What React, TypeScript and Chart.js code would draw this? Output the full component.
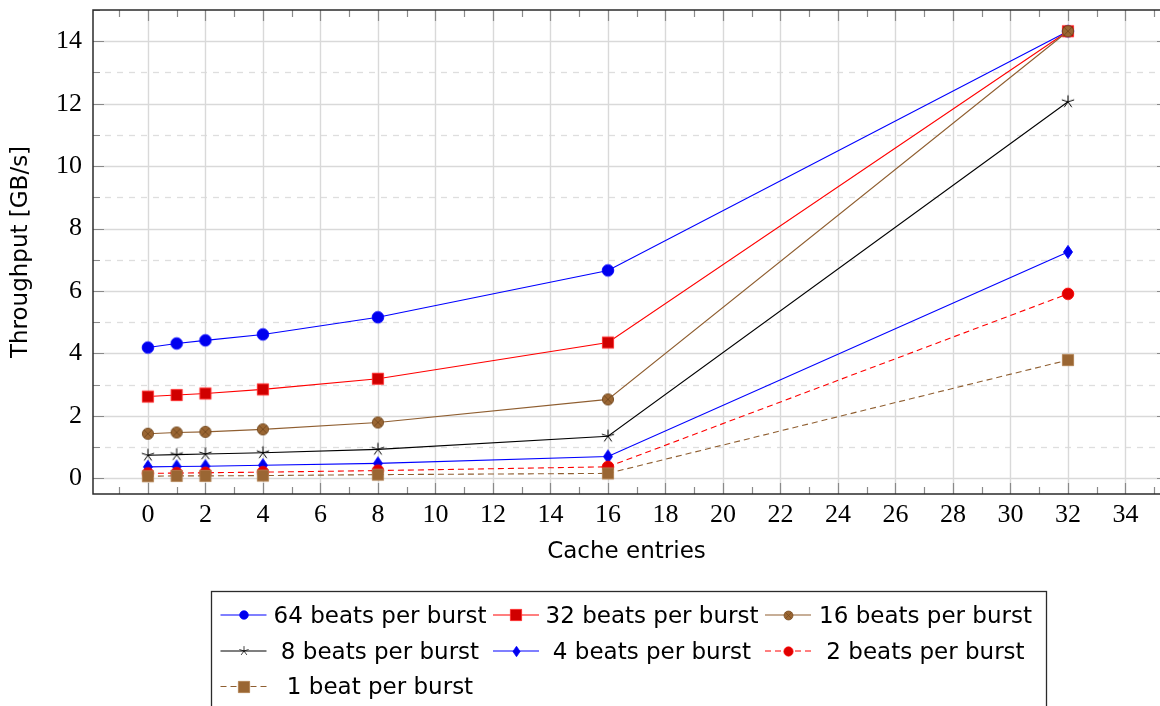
import React, { useEffect, useRef } from 'react';
import { Chart, registerables } from 'chart.js';

Chart.register(...registerables);

// ---------- data ----------
const CACHE_ENTRIES = [0, 1, 2, 4, 8, 16, 32];
const BEATS_64 = [4.19, 4.32, 4.42, 4.61, 5.16, 6.66, 14.32];
const BEATS_32 = [2.62, 2.67, 2.72, 2.85, 3.19, 4.35, 14.32];
const BEATS_16 = [1.43, 1.47, 1.49, 1.57, 1.79, 2.53, 14.32];
const BEATS_8 = [0.74, 0.76, 0.78, 0.82, 0.93, 1.35, 12.06];
const BEATS_4 = [0.37, 0.38, 0.39, 0.42, 0.48, 0.7, 7.25];
const BEATS_2 = [0.16, 0.17, 0.18, 0.2, 0.25, 0.37, 5.91];
const BEATS_1 = [0.07, 0.08, 0.08, 0.09, 0.12, 0.16, 3.79];
const SERIES_LABELS = [
  '64 beats per burst',
  '32 beats per burst',
  '16 beats per burst',
  '8 beats per burst',
  '4 beats per burst',
  '2 beats per burst',
  '1 beat per burst',
];
const X_TICKS = [0, 2, 4, 6, 8, 10, 12, 14, 16, 18, 20, 22, 24, 26, 28, 30, 32, 34];
const Y_TICKS = [0, 2, 4, 6, 8, 10, 12, 14];
const X_TITLE = 'Cache entries';
const Y_TITLE = 'Throughput [GB/s]';

// ---------- marker images ----------
type Kind = 'circle' | 'square' | 'circlex' | 'star' | 'diamond';
function makeMarker(kind: Kind, fill: string, stroke: string, scale = 1): HTMLCanvasElement {
  const size = Math.max(6, Math.round(16 * scale));
  const c = document.createElement('canvas');
  c.width = size;
  c.height = size;
  const ctx = c.getContext('2d')!;
  ctx.translate(size / 2, size / 2);
  ctx.scale(scale, scale);
  ctx.lineWidth = 0.9;
  ctx.fillStyle = fill;
  ctx.strokeStyle = stroke;
  if (kind === 'circle') {
    ctx.beginPath();
    ctx.arc(0, 0, 5.8, 0, Math.PI * 2);
    ctx.fill();
    ctx.stroke();
  } else if (kind === 'square') {
    ctx.beginPath();
    ctx.rect(-5.6, -5.6, 11.2, 11.2);
    ctx.fill();
    ctx.stroke();
  } else if (kind === 'circlex') {
    ctx.beginPath();
    ctx.arc(0, 0, 5.6, 0, Math.PI * 2);
    ctx.fill();
    ctx.stroke();
    const d = 5.6 * Math.SQRT1_2;
    ctx.beginPath();
    ctx.moveTo(-d, -d);
    ctx.lineTo(d, d);
    ctx.moveTo(d, -d);
    ctx.lineTo(-d, d);
    ctx.stroke();
  } else if (kind === 'diamond') {
    ctx.beginPath();
    ctx.moveTo(0, -6.6);
    ctx.lineTo(4.5, 0);
    ctx.lineTo(0, 6.6);
    ctx.lineTo(-4.5, 0);
    ctx.closePath();
    ctx.fill();
    ctx.stroke();
  } else if (kind === 'star') {
    ctx.lineWidth = 1;
    ctx.beginPath();
    for (let k = 0; k < 5; k++) {
      const a = -Math.PI / 2 + (k * 2 * Math.PI) / 5;
      ctx.moveTo(0, 0);
      ctx.lineTo(6.5 * Math.cos(a), 6.5 * Math.sin(a));
    }
    ctx.stroke();
  }
  return c;
}

const BROWN_LINE = '#8f5e30';
const BROWN_FILL = '#9a6633';
const BROWN_EDGE = '#74491f';

interface SeriesStyle {
  data: number[];
  color: string;
  dash: number[];
  kind: Kind;
  fill: string;
  stroke: string;
  legendScale: number;
}

const SERIES: SeriesStyle[] = [
  { data: BEATS_64, color: '#0000ff', dash: [], kind: 'circle', fill: '#0000ee', stroke: '#0000ff', legendScale: 0.75 },
  { data: BEATS_32, color: '#ff0000', dash: [], kind: 'square', fill: '#d00000', stroke: '#ff2a2a', legendScale: 1 },
  { data: BEATS_16, color: BROWN_LINE, dash: [], kind: 'circlex', fill: BROWN_FILL, stroke: BROWN_EDGE, legendScale: 0.8 },
  { data: BEATS_8, color: '#000000', dash: [], kind: 'star', fill: '#000000', stroke: '#000000', legendScale: 0.75 },
  { data: BEATS_4, color: '#0000ff', dash: [], kind: 'diamond', fill: '#0000ee', stroke: '#0000ff', legendScale: 0.8 },
  { data: BEATS_2, color: '#ff0000', dash: [6, 4], kind: 'circle', fill: '#e00000', stroke: '#ff0000', legendScale: 0.8 },
  { data: BEATS_1, color: BROWN_LINE, dash: [6, 4], kind: 'square', fill: BROWN_FILL, stroke: '#b08050', legendScale: 1 },
];

const TICK_FONT = "'Liberation Serif', 'DejaVu Serif', serif";
const SANS = "'DejaVu Sans', 'Noto Sans', sans-serif";

export default function App() {
  const ref = useRef<HTMLCanvasElement | null>(null);

  useEffect(() => {
    const canvas = ref.current;
    if (!canvas) return;

    const markers = SERIES.map((s) => makeMarker(s.kind, s.fill, s.stroke, 1));
    const legendMarkers = SERIES.map((s) => makeMarker(s.kind, s.fill, s.stroke, s.legendScale));

    const datasets = SERIES.map((s, i) => ({
      label: SERIES_LABELS[i],
      data: CACHE_ENTRIES.map((x, j) => ({ x, y: s.data[j] })),
      borderColor: s.color,
      backgroundColor: s.fill,
      borderWidth: 1.1,
      borderDash: s.dash,
      pointStyle: markers[i] as any,
      pointRadius: 6,
      pointHoverRadius: 6,
      tension: 0,
      fill: false,
      order: SERIES.length - 1 - i,
      clip: 12,
    }));

    const frame = {
      id: 'pgfFrame',
      beforeDatasetsDraw(chart: any) {
        const { ctx, chartArea: a, scales } = chart;
        const xs = scales.x;
        const ys = scales.y;
        const rightEdge = chart.width + 8; // frame's right side lies just outside the picture
        ctx.save();
        // minor dashed y grid
        ctx.strokeStyle = '#dedede';
        ctx.lineWidth = 1.3;
        ctx.setLineDash([6, 6]);
        Y_TICKS.forEach((t) => {
          const v = t + 1;
          if (v >= ys.max) return;
          const py = Math.round(ys.getPixelForValue(v)) + 0.5;
          ctx.beginPath();
          ctx.moveTo(a.left, py);
          ctx.lineTo(a.right, py);
          ctx.stroke();
        });
        ctx.setLineDash([]);
        // major grid
        ctx.strokeStyle = '#d9d9d9';
        ctx.lineWidth = 1.4;
        X_TICKS.forEach((t) => {
          const px = Math.round(xs.getPixelForValue(t)) + 0.5;
          ctx.beginPath();
          ctx.moveTo(px, a.top);
          ctx.lineTo(px, a.bottom);
          ctx.stroke();
        });
        Y_TICKS.forEach((t) => {
          const py = Math.round(ys.getPixelForValue(t)) + 0.5;
          ctx.beginPath();
          ctx.moveTo(a.left, py);
          ctx.lineTo(a.right, py);
          ctx.stroke();
        });
        // tick marks (inward)
        ctx.strokeStyle = '#8a8a8a';
        ctx.lineWidth = 1.2;
        const xMinor = X_TICKS.map((t) => t - 1).concat([X_TICKS[X_TICKS.length - 1] + 1]);
        const drawX = (v: number, len: number) => {
          const px = Math.round(xs.getPixelForValue(v)) + 0.5;
          if (px < a.left || px > a.right) return;
          ctx.beginPath();
          ctx.moveTo(px, a.bottom);
          ctx.lineTo(px, a.bottom - len);
          ctx.moveTo(px, a.top);
          ctx.lineTo(px, a.top + len);
          ctx.stroke();
        };
        X_TICKS.forEach((t) => drawX(t, 11));
        xMinor.forEach((t) => drawX(t, 7));
        const drawY = (v: number, len: number) => {
          const py = Math.round(ys.getPixelForValue(v)) + 0.5;
          if (py < a.top || py > a.bottom) return;
          ctx.beginPath();
          ctx.moveTo(a.left, py);
          ctx.lineTo(a.left + len, py);
          ctx.moveTo(rightEdge, py);
          ctx.lineTo(rightEdge - len, py);
          ctx.stroke();
        };
        Y_TICKS.forEach((t) => drawY(t, 11));
        Y_TICKS.forEach((t) => drawY(t + 1, 7));
        // axis frame
        ctx.strokeStyle = '#2b2b2b';
        ctx.lineWidth = 1.5;
        ctx.beginPath();
        ctx.moveTo(rightEdge, a.top);
        ctx.lineTo(a.left, a.top);
        ctx.lineTo(a.left, a.bottom);
        ctx.lineTo(rightEdge, a.bottom);
        ctx.stroke();
        ctx.restore();
      },
    };

    const legend = {
      id: 'pgfLegend',
      afterDraw(chart: any) {
        const { ctx } = chart;
        ctx.save();
        ctx.strokeStyle = '#2b2b2b';
        ctx.lineWidth = 1.3;
        ctx.strokeRect(211.5, 591.5, 835, 200);
        const rows = [615, 651, 686.5];
        const lineStart = [220.5, 493, 765];
        const textCenter = [380, 652, 925.5];
        ctx.font = `23px ${SANS}`;
        ctx.textBaseline = 'middle';
        ctx.textAlign = 'center';
        SERIES.forEach((s, i) => {
          const r = Math.floor(i / 3);
          const c = i % 3;
          const y = rows[r];
          const x0 = lineStart[c];
          ctx.strokeStyle = s.color;
          ctx.lineWidth = 1.1;
          ctx.setLineDash(s.dash);
          ctx.beginPath();
          ctx.moveTo(x0, y);
          ctx.lineTo(x0 + 46, y);
          ctx.stroke();
          ctx.setLineDash([]);
          const m = legendMarkers[i];
          ctx.drawImage(m, Math.round(x0 + 23 - m.width / 2), Math.round(y - m.height / 2));
          ctx.fillStyle = '#000';
          ctx.fillText(SERIES_LABELS[i], textCenter[c], y + 2);
        });
        ctx.restore();
      },
    };

    const chart = new Chart(canvas, {
      type: 'line',
      data: { datasets: datasets as any },
      options: {
        responsive: false,
        animation: false,
        events: [],
        layout: { autoPadding: false, padding: { top: 10, right: 0, bottom: 0, left: 0 } },
        plugins: {
          legend: { display: false },
          tooltip: { enabled: false },
        },
        scales: {
          x: {
            type: 'linear',
            min: -1.91,
            max: 35.2,
            grid: { display: false, drawTicks: false },
            border: { display: false },
            afterBuildTicks: (s: any) => {
              s.ticks = X_TICKS.map((v) => ({ value: v }));
            },
            afterFit: (s: any) => {
              s.height = 212;
              s.paddingLeft = 0;
              s.paddingRight = 0;
            },
            ticks: {
              autoSkip: false,
              maxRotation: 0,
              padding: 6,
              color: '#000',
              font: { family: TICK_FONT, size: 26 },
              callback: (v: any) => String(v),
            },
            title: {
              display: true,
              text: X_TITLE,
              color: '#000',
              font: { family: SANS, size: 23 },
              padding: { top: 0, bottom: 140 },
            },
          },
          y: {
            type: 'linear',
            min: -0.5,
            max: 15,
            grid: { display: false, drawTicks: false },
            border: { display: false },
            afterBuildTicks: (s: any) => {
              s.ticks = Y_TICKS.map((v) => ({ value: v }));
            },
            afterFit: (s: any) => {
              s.width = 93;
              s.paddingTop = 0;
              s.paddingBottom = 0;
            },
            ticks: {
              autoSkip: false,
              padding: 11,
              color: '#000',
              font: { family: TICK_FONT, size: 26 },
              callback: (v: any) => String(v),
            },
            title: {
              display: true,
              text: Y_TITLE,
              color: '#000',
              font: { family: SANS, size: 23 },
              padding: { top: 7, bottom: 0 },
            },
          },
        },
      },
      plugins: [frame, legend],
    });

    return () => chart.destroy();
  }, []);

  return (
    <div style={{ position: 'fixed', left: 0, top: 0, width: 1160, height: 706, background: '#fff' }}>
      <canvas ref={ref} width={1160} height={706} style={{ display: 'block' }} />
    </div>
  );
}
